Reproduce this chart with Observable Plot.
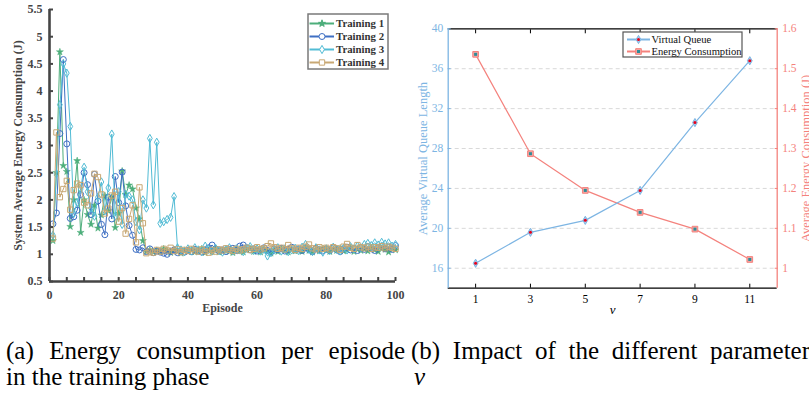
<!DOCTYPE html>
<html><head><meta charset="utf-8">
<script src="https://cdn.jsdelivr.net/npm/d3@7"></script>
<script src="https://cdn.jsdelivr.net/npm/@observablehq/plot@0.6"></script>
<style>
html,body{margin:0;padding:0;background:#fff;}
body{width:809px;height:397px;overflow:hidden;position:relative;}
#a{position:absolute;left:0;top:0;}
#b{position:absolute;left:405px;top:0;}
.cap{position:absolute;font-family:"Liberation Serif","Times New Roman",serif;font-size:25px;line-height:25px;color:#000;white-space:nowrap;}
.just{white-space:normal;text-align:justify;text-align-last:justify;}
.lg{position:absolute;}
</style></head><body>
<div id="a"></div><div id="b"></div>
<div class="cap just" style="left:6px;top:338px;width:399px">(a) Energy consumption per episode</div>
<div class="cap" style="left:6px;top:364px">in the training phase</div>
<div class="cap just" style="left:411px;top:338px;width:399px">(b) Impact of the different parameter</div>
<div class="cap" style="left:414px;top:364px;font-style:italic">ν</div>
<script>
// ---------- (a) data ----------
const episode = d3.range(1, 101);
const training1 = [
1.25,2.50,4.72,2.63,2.52,1.51,2.00,2.72,1.40,2.00,
1.73,1.55,1.90,1.48,1.72,2.08,1.80,2.05,1.49,1.75,
2.53,2.10,2.27,2.20,1.85,1.65,1.25,1.05,1.08,1.04,
1.07,1.05,1.10,1.06,1.03,1.08,1.05,1.02,1.07,1.05,
1.08,1.04,1.06,1.10,1.03,1.07,1.05,1.09,1.04,1.06,
1.08,1.05,1.03,1.09,1.06,1.04,1.08,1.10,1.05,1.07,
1.04,1.09,1.06,1.02,1.08,1.05,1.10,1.07,1.04,1.09,
1.06,1.08,1.05,1.11,1.07,1.04,1.09,1.06,1.10,1.08,
1.05,1.09,1.07,1.11,1.06,1.08,1.12,1.05,1.09,1.07,
1.10,1.06,1.12,1.08,1.05,1.11,1.09,1.04,1.10,1.08];
const training2 = [
1.56,1.76,3.22,4.58,3.03,1.66,1.69,1.81,2.10,2.50,
2.28,1.73,2.47,1.98,1.55,1.36,2.05,1.65,2.43,1.95,
2.51,1.89,1.53,1.35,1.09,1.08,1.12,1.05,1.10,1.03,
1.06,1.04,1.02,1.00,1.05,1.08,1.03,1.06,1.04,1.07,
1.05,1.09,1.06,1.04,1.08,1.12,1.17,1.10,1.06,1.08,
1.05,1.09,1.11,1.07,1.15,1.17,1.12,1.08,1.10,1.06,
1.09,1.12,1.07,1.04,1.10,1.08,1.11,1.06,1.09,1.13,
1.08,1.10,1.07,1.12,1.09,1.05,1.11,1.08,1.06,1.10,
1.07,1.12,1.09,1.05,1.10,1.13,1.08,1.11,1.07,1.12,
1.09,1.14,1.10,1.07,1.12,1.15,1.10,1.13,1.09,1.16];
const training3 = [
1.35,2.48,3.75,4.50,4.33,3.35,1.75,1.95,2.20,2.60,
2.15,1.85,1.70,2.05,2.33,1.80,2.22,3.21,1.70,2.15,
1.55,2.10,2.07,2.00,1.60,1.45,2.00,1.85,3.13,1.91,
3.06,1.57,1.60,1.64,1.68,2.06,1.12,1.08,1.05,1.10,
1.06,1.12,1.08,1.05,1.15,1.09,1.06,1.11,1.07,1.04,
1.09,1.12,1.06,1.10,1.08,1.05,1.11,1.14,1.07,1.10,
1.06,1.09,0.97,1.03,1.08,1.12,1.06,1.10,1.05,1.08,
1.11,1.07,1.13,1.18,1.09,1.05,1.12,1.08,1.04,1.10,
1.07,1.13,1.09,1.06,1.11,1.08,1.14,1.10,1.15,1.12,
1.18,1.20,1.16,1.21,1.17,1.22,1.19,1.21,1.15,1.18];
const training4 = [
1.29,3.24,2.05,2.20,2.35,1.82,2.18,2.30,2.27,1.95,
1.90,2.12,2.48,2.42,2.10,1.75,1.84,2.08,2.15,1.60,
1.85,1.38,1.65,1.90,1.22,2.23,1.57,1.02,1.05,1.03,
1.08,1.05,1.10,1.07,1.12,1.06,1.09,1.04,1.08,1.06,
1.10,1.07,1.05,1.09,1.06,1.03,1.08,1.05,1.09,1.07,
1.11,1.08,1.06,1.10,1.07,1.09,1.12,1.08,1.10,1.13,
1.09,1.11,1.15,1.20,1.13,1.10,1.12,1.09,1.17,1.11,
1.08,1.12,1.10,1.14,1.18,1.11,1.09,1.13,1.10,1.12,
1.09,1.13,1.11,1.08,1.14,1.19,1.12,1.10,1.17,1.13,
1.11,1.14,1.10,1.13,1.12,1.15,1.11,1.14,1.12,1.10];
const seriesNames = ["Training 1","Training 2","Training 3","Training 4"];
const seriesValues = [training1, training2, training3, training4];
const xTicksA = [0,20,40,60,80,100];
const xMinorA = [0,5,10,15,20,25,30,35,40,45,50,55,60,65,70,75,80,85,90,95,100];
const yTicksA = [0.5,1,1.5,2,2.5,3,3.5,4,4.5,5,5.5];

// ---------- (b) data ----------
const nu = [1,3,5,7,9,11];
const virtualQueue = [16.5,19.6,20.8,23.8,30.6,36.8];
const energyCons = [1.536,1.287,1.195,1.140,1.098,1.022];
const leftTicksB = [16,20,24,28,32,36,40];
const rightTicksB = [1,1.1,1.2,1.3,1.4,1.5,1.6];

// ---------- (a) chart ----------
const colorsA = ["#4dae7b","#3e6fc3","#52bcd5","#c8a874"];
const symbolsA = ["star","circle","diamond","square"];
const radiiA = [2.2,3,2.5,3];
const axisCol = "#454545";
const marksA = [];
seriesValues.forEach((vals,i)=>{
  const rows = vals.map((v,j)=>({ep: episode[j], v, s: seriesNames[i]}));
  marksA.push(Plot.line(rows,{x:"ep",y:"v",stroke:colorsA[i],strokeWidth:1}));
  marksA.push(Plot.dot(rows,{x:"ep",y:"v",symbol:symbolsA[i],r:radiiA[i],
    fill: i===0 ? colorsA[i] : "none", stroke: colorsA[i], strokeWidth: i===0?0.5:1}));
});
marksA.push(
  Plot.axisX(xMinorA,{tickSize:-4,tickFormat:()=>"",strokeWidth:2,color:axisCol,label:null}),
  Plot.axisX(xTicksA,{tickSize:0,tickPadding:9,color:axisCol,label:null}),
  Plot.axisY(yTicksA,{tickSize:-4,tickPadding:11,strokeWidth:2,color:axisCol,label:null,tickFormat:d=>String(d)}),
  Plot.ruleX([0],{stroke:axisCol,strokeWidth:2.6}),
  Plot.ruleY([0.5],{stroke:axisCol,strokeWidth:2.6}),
  Plot.text(["Episode"],{frameAnchor:"bottom",dy:30,fill:axisCol,fontSize:12}),
  Plot.text(["System Average Energy Consumption (J)"],{frameAnchor:"left",textAnchor:"middle",rotate:-90,dx:-31,fill:axisCol,fontSize:12})
);
const chartA = Plot.plot({
  width:405,height:330,
  marginLeft:49,marginRight:10,marginTop:9,marginBottom:49,
  x:{domain:[0,100]},
  y:{domain:[0.5,5.5]},
  style:{fontFamily:"Liberation Serif",fontWeight:"bold",fontSize:"12px",color:axisCol,background:"white"},
  marks:marksA
});
document.getElementById("a").appendChild(chartA);

// legend (a)
(function(){
  const svg = d3.select("body").append("svg").attr("class","lg")
    .style("left","307px").style("top","13px").attr("width",83).attr("height",58);
  svg.append("rect").attr("x",1).attr("y",1).attr("width",80).attr("height",55)
    .attr("fill","white").attr("stroke","#7a7a7a").attr("stroke-width",1.5);
  const sym = {star:d3.symbolStar,circle:d3.symbolCircle,diamond:d3.symbolDiamond,square:d3.symbolSquare};
  seriesNames.forEach((n,i)=>{
    const y = 10.5 + i*13;
    svg.append("line").attr("x1",2.5).attr("x2",27).attr("y1",y).attr("y2",y)
      .attr("stroke",colorsA[i]).attr("stroke-width",2);
    svg.append("path").attr("transform",`translate(15,${y})`)
      .attr("d",d3.symbol(sym[symbolsA[i]], radiiA[i]*radiiA[i]*Math.PI)())
      .attr("fill", i===0?colorsA[i]:"white").attr("stroke",colorsA[i]).attr("stroke-width",1);
    svg.append("text").attr("x",29).attr("y",y).attr("dy","0.35em")
      .attr("font-family","Liberation Serif").attr("font-weight","bold").attr("font-size",10.8)
      .attr("fill","#333").text(n);
  });
})();

// ---------- (b) chart ----------
const blue = "#7db5e3", salmon = "#f4827d", teal = "#2d8c98";
const yLo = 14, yHi = 40, eLo = 0.95, eHi = 1.6;
const e2y = v => yLo + (v - eLo) * (yHi - yLo) / (eHi - eLo);
const y2e = y => eLo + (y - yLo) * (eHi - eLo) / (yHi - yLo);
const qRows = nu.map((n,i)=>({nu:n, q:virtualQueue[i]}));
const eRows = nu.map((n,i)=>({nu:n, e:energyCons[i]}));
const chartB = Plot.plot({
  width:404,height:330,
  marginLeft:42.7,marginRight:32.3,marginTop:28.3,marginBottom:42.3,
  x:{domain:[0,12]},
  y:{domain:[yLo,yHi]},
  style:{fontFamily:"Liberation Serif",fontSize:"11.5px",color:"#000",background:"white"},
  marks:[
    Plot.gridY(leftTicksB.slice(0,-1),{stroke:"#d9d9d9",strokeOpacity:1,strokeDasharray:"4,3"}),
    Plot.ruleY([yHi],{stroke:"#000",strokeWidth:1.3}),
    Plot.ruleY([yLo],{stroke:"#000",strokeWidth:1.3}),
    Plot.ruleX([0],{stroke:blue,strokeWidth:1.3}),
    Plot.ruleX([12],{stroke:salmon,strokeWidth:1.3}),
    Plot.axisX(nu,{anchor:"top",tickSize:-4,tickFormat:()=>"",color:"#000",label:null}),
    Plot.axisX(nu,{anchor:"bottom",tickSize:-4,tickPadding:11,color:"#000",label:null}),
    Plot.axisY(leftTicksB,{anchor:"left",tickSize:-3,tickPadding:8,color:blue,label:null}),
    Plot.axisY(rightTicksB.map(e2y),{anchor:"right",tickSize:-3,tickPadding:8,color:salmon,label:null,
      tickFormat:d=>d3.format(".1~f")(y2e(d))}),
    Plot.line(eRows,{x:"nu",y:d=>e2y(d.e),stroke:salmon,strokeWidth:1.2}),
    Plot.line(qRows,{x:"nu",y:"q",stroke:blue,strokeWidth:1.2}),
    Plot.dot(eRows,{x:"nu",y:d=>e2y(d.e),symbol:"square",r:3.2,fill:"#f6a6a2",stroke:salmon,strokeWidth:1}),
    Plot.dot(eRows,{x:"nu",y:d=>e2y(d.e),symbol:"square",r:1.7,fill:teal}),
    Plot.dot(qRows,{x:"nu",y:"q",symbol:"diamond",r:2.5,fill:"#a9cdef",stroke:blue,strokeWidth:1}),
    Plot.dot(qRows,{x:"nu",y:"q",r:1.5,fill:"#e8001a"}),
    Plot.text(["Average Virtual Queue Length"],{frameAnchor:"left",textAnchor:"middle",rotate:-90,dx:-25,fill:blue,fontSize:12.5}),
    Plot.text(["Average Energy Consumption (J)"],{frameAnchor:"right",textAnchor:"middle",rotate:-90,dx:28.5,fill:salmon,fontSize:12.5}),
    Plot.text(["ν"],{frameAnchor:"bottom",dy:26,fontStyle:"italic",fontSize:13,fill:"#000"})
  ]
});
document.getElementById("b").appendChild(chartB);

// legend (b)
(function(){
  const svg = d3.select("body").append("svg").attr("class","lg")
    .style("left","622px").style("top","31px").attr("width",122).attr("height",28);
  svg.append("rect").attr("x",1).attr("y",1).attr("width",119).attr("height",25)
    .attr("fill","white").attr("stroke","#555").attr("stroke-width",1.2);
  const items = ["Virtual Queue","Energy Consumption"];
  items.forEach((n,i)=>{
    const y = 8.5 + i*12;
    svg.append("line").attr("x1",5).attr("x2",28).attr("y1",y).attr("y2",y)
      .attr("stroke",i===0?blue:salmon).attr("stroke-width",2);
    if(i===0){
      svg.append("path").attr("transform",`translate(16.5,${y})`)
        .attr("d",d3.symbol(d3.symbolDiamond,2.5*2.5*Math.PI)()).attr("fill","#a9cdef").attr("stroke",blue);
      svg.append("circle").attr("cx",16.5).attr("cy",y).attr("r",1.5).attr("fill","#e8001a");
    } else {
      svg.append("path").attr("transform",`translate(16.5,${y})`)
        .attr("d",d3.symbol(d3.symbolSquare,3.2*3.2*Math.PI)()).attr("fill","#f6a6a2").attr("stroke",salmon);
      svg.append("path").attr("transform",`translate(16.5,${y})`)
        .attr("d",d3.symbol(d3.symbolSquare,1.7*1.7*Math.PI)()).attr("fill",teal);
    }
    svg.append("text").attr("x",29.5).attr("y",y).attr("dy","0.35em")
      .attr("font-family","Liberation Serif").attr("font-size",10.6).attr("fill","#111").text(n);
  });
})();
</script>
</body></html>
